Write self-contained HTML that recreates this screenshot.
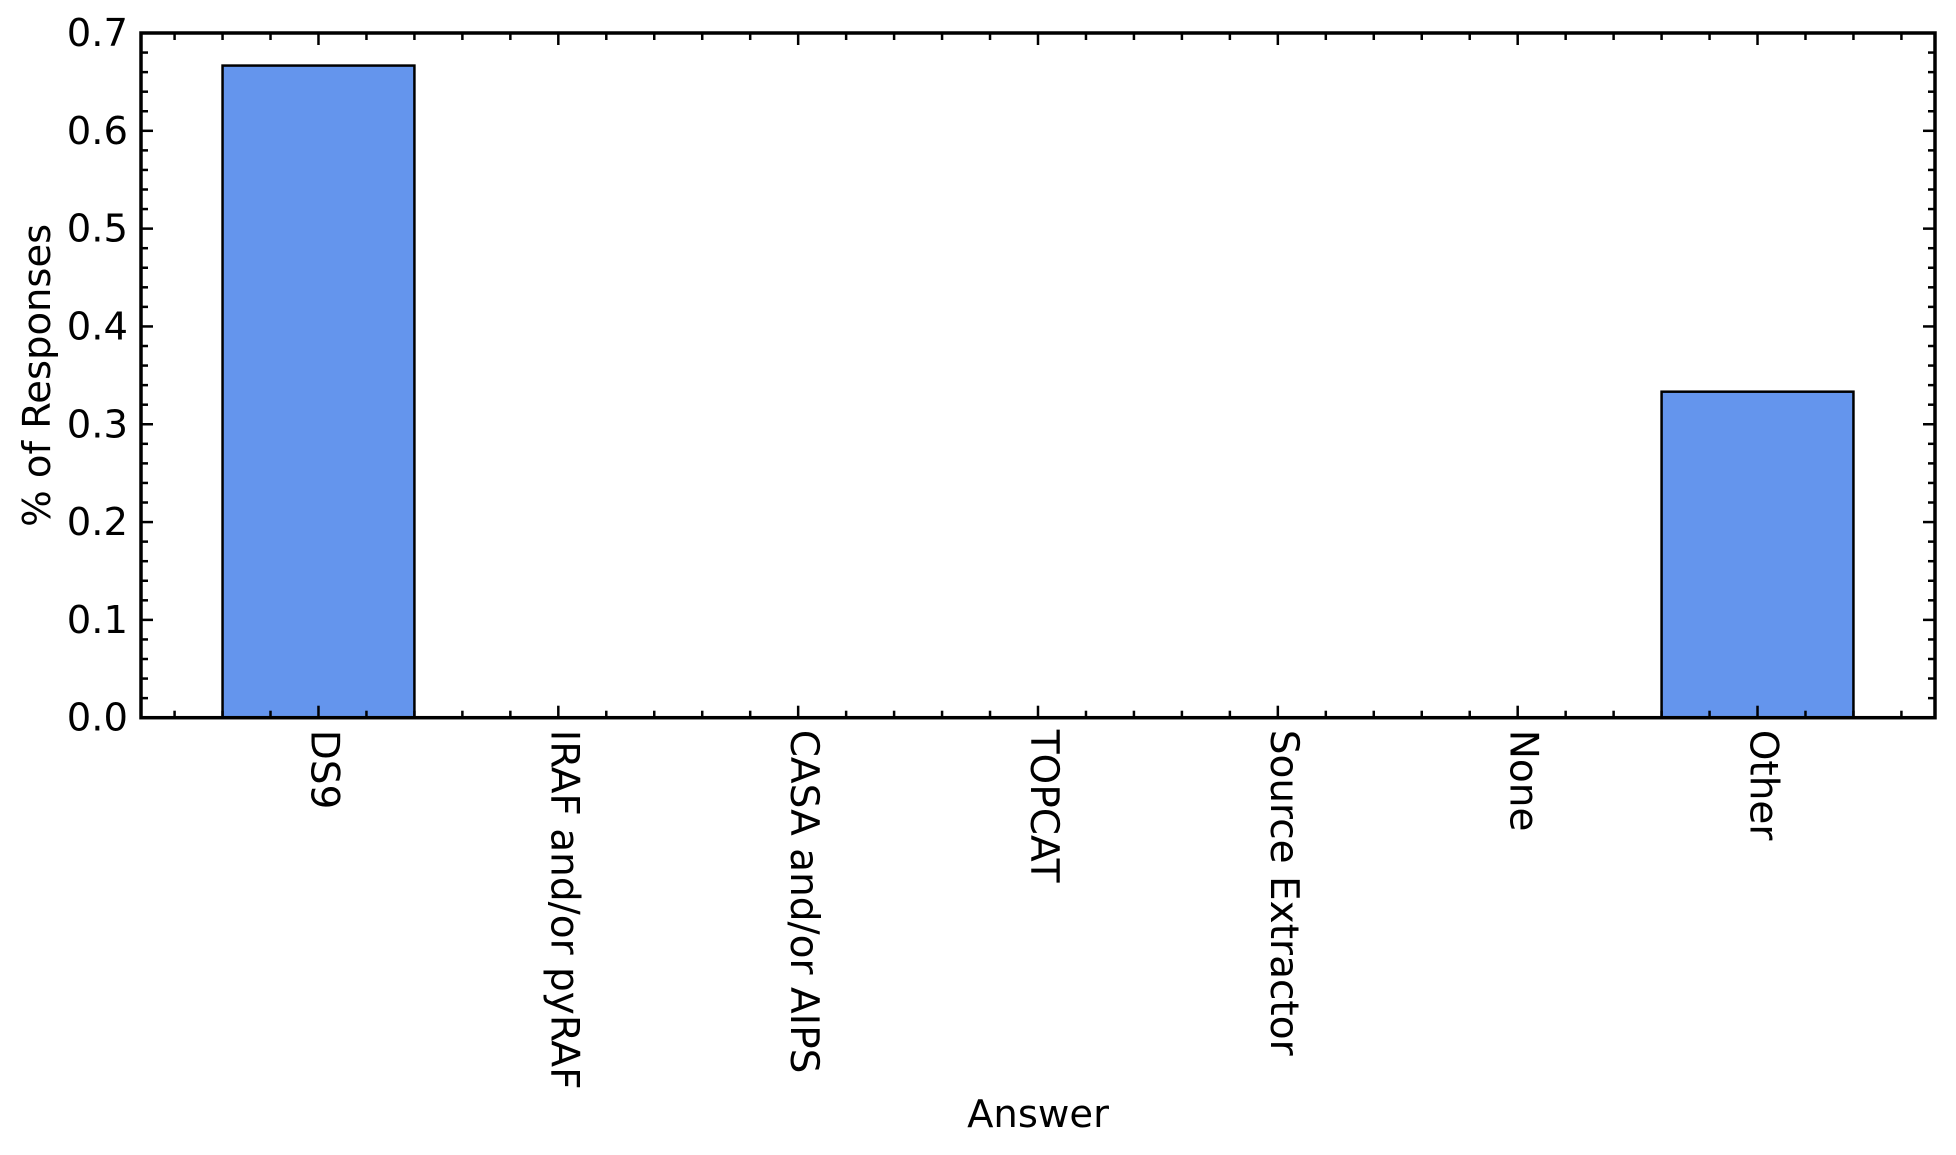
<!DOCTYPE html>
<html><head><meta charset="utf-8"><style>
html,body{margin:0;padding:0;background:#fff;}
svg{display:block;font-family:"DejaVu Sans","Liberation Sans",sans-serif;}
</style></head><body>
<svg id="chart" width="1956" height="1155" viewBox="0 0 1956 1155" xmlns="http://www.w3.org/2000/svg"></svg>
<script>
const categories = ["DS9","IRAF and/or pyRAF","CASA and/or AIPS","TOPCAT","Source Extractor","None","Other"];
const values = [0.6667,0,0,0,0,0,0.3333];
const yTicks = [0,0.1,0.2,0.3,0.4,0.5,0.6,0.7];
const yTickLabels = ["0.0","0.1","0.2","0.3","0.4","0.5","0.6","0.7"];

const L=141,R=1935,T=33,B=717.7;
const xMin=-0.74,xMax=6.74,yMin=0,yMax=0.7;
const sx=v=>L+(v-xMin)/(xMax-xMin)*(R-L);
const sy=v=>B-(v-yMin)/(yMax-yMin)*(B-T);
const svg=document.getElementById('chart');
const NS='http://www.w3.org/2000/svg';
function mk(tag,attrs,parent){const e=document.createElementNS(NS,tag);for(const k in attrs)e.setAttribute(k,attrs[k]);(parent||svg).appendChild(e);return e;}

categories.forEach((c,i)=>{
  if(values[i]<=0) return;
  const x0=sx(i-0.4),x1=sx(i+0.4);
  const r=mk('rect',{x:x0,y:sy(values[i]),width:x1-x0,height:sy(0)-sy(values[i]),fill:'#6495ed',stroke:'#000','stroke-width':2.5});
  
  
});

const tg=mk('g',{stroke:'#000','stroke-width':2.5});


for(let k=Math.ceil(xMin/0.2);k*0.2<=xMax;k++){
  const v=k*0.2;const isMaj=Math.abs(v-Math.round(v))<1e-6 && Math.round(v)>=0 && Math.round(v)<categories.length;
  const len=isMaj?12:7;const x=sx(v);
  mk('line',{x1:x,x2:x,y1:B,y2:B-len},tg);
  mk('line',{x1:x,x2:x,y1:T,y2:T+len},tg);
}
for(let k=0;k<=35;k++){
  const v=k*0.02;const isMaj=k%5===0;const len=isMaj?12:7;const y=sy(v);
  mk('line',{x1:L,x2:L+len,y1:y,y2:y},tg);
  mk('line',{x1:R,x2:R-len,y1:y,y2:y},tg);
}

const fr=mk('rect',{x:L,y:T,width:R-L,height:B-T,fill:'none',stroke:'#000','stroke-width':3.5});



yTicks.forEach((v,i)=>{
  const t=mk('text',{x:L-13,y:sy(v)+13,'text-anchor':'end','font-size':38.5,fill:'#000'});
  t.textContent=yTickLabels[i];
  
  
});
categories.forEach((c,i)=>{
  const x=sx(i),y=B+12;
  const t=mk('text',{x:0,y:0,transform:`translate(${x-7},${y}) rotate(90)`,'font-size':39,fill:'#000'});
  t.textContent=c;
  
  
});
const xt=mk('text',{x:(L+R)/2,y:1127,'text-anchor':'middle','font-size':38.5,fill:'#000'});
xt.textContent='Answer';


const yt=mk('text',{x:0,y:0,transform:`translate(50,${(T+B)/2}) rotate(-90)`,'text-anchor':'middle','font-size':38.5,fill:'#000'});
yt.textContent='% of Responses';


</script>
</body></html>
